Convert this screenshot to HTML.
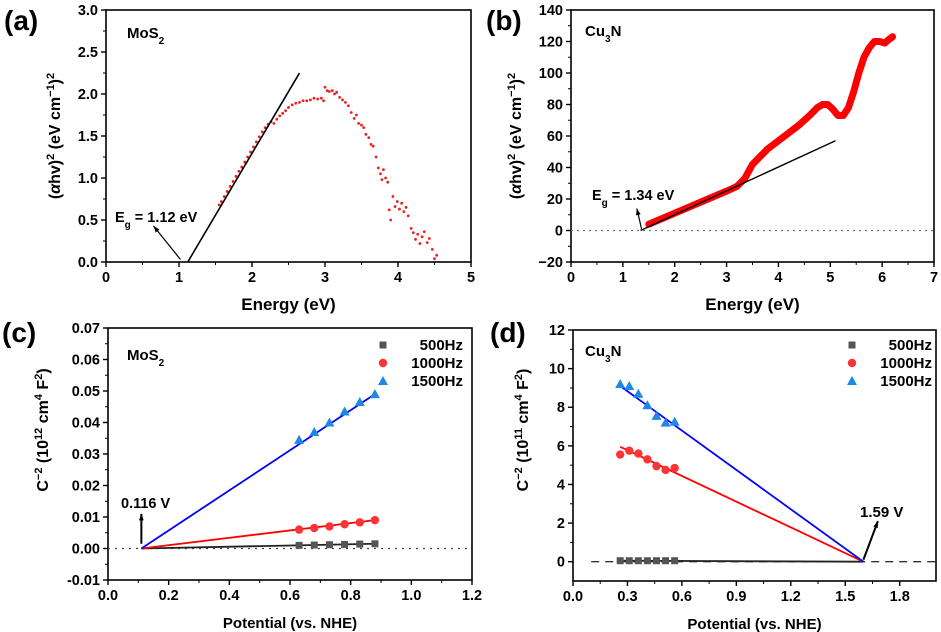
<!DOCTYPE html>
<html><head><meta charset="utf-8"><style>
body{margin:0;background:#fff;}
svg{display:block;font-family:"Liberation Sans",Arial,sans-serif;font-weight:bold;}
</style></head><body>
<svg id="c" width="941" height="632" viewBox="0 0 941 632" xmlns="http://www.w3.org/2000/svg"></svg>
<script>
// Panel (a) MoS2 Tauc data
const aX=[1.55,1.58,1.62,1.66,1.70,1.74,1.78,1.82,1.86,1.90,1.94,1.98,2.02,2.06,2.10,2.14,2.18,2.22,2.26,2.30,2.34,2.38,2.42,2.46,2.50,2.55,2.60,2.65,2.70,2.75,2.80,2.85,2.90,2.95,2.98,3.00,3.03,3.06,3.10,3.13,3.16,3.20,3.24,3.28,3.32,3.36,3.40,3.43,3.46,3.50,3.53,3.56,3.60,3.63,3.66,3.70,3.73,3.76,3.78,3.80,3.83,3.86,3.88,3.90,3.93,3.96,3.99,4.02,4.05,4.08,4.11,4.14,4.18,4.21,4.24,4.27,4.30,4.33,4.36,4.40,4.43,4.47,4.50,4.53];
const aY=[0.68,0.72,0.78,0.84,0.90,0.96,1.02,1.08,1.13,1.19,1.25,1.31,1.37,1.43,1.49,1.55,1.60,1.64,1.67,1.65,1.70,1.74,1.77,1.80,1.84,1.87,1.89,1.90,1.92,1.92,1.93,1.95,1.94,1.95,1.92,2.08,2.04,2.03,2.04,2.00,2.02,1.96,1.93,1.90,1.86,1.78,1.71,1.75,1.65,1.63,1.60,1.52,1.48,1.40,1.38,1.25,1.12,1.05,0.98,1.10,1.00,0.95,0.62,0.50,0.78,0.66,0.72,0.63,0.70,0.60,0.65,0.55,0.40,0.35,0.27,0.33,0.22,0.30,0.36,0.23,0.28,0.15,0.04,0.08];
const aFit=[1.12,2.65];
// Panel (b) Cu3N Tauc data
const bX=[1.5,1.75,2.0,2.25,2.5,2.75,3.0,3.2,3.35,3.5,3.65,3.8,4.0,4.2,4.4,4.6,4.75,4.85,4.95,5.05,5.15,5.25,5.35,5.45,5.55,5.65,5.75,5.85,5.95,6.05,6.12,6.2];
const bY=[4,7.5,11,14.5,18,21.5,25,28,33,42,47,52,57,62,67,73,78,80,80,77,73,73,78,88,100,110,116,120,120,119,121,123];
const bFit=[1.34,5.1];
// Panel (c) MoS2 Mott-Schottky
const cX=[0.63,0.68,0.73,0.78,0.83,0.88];
const c500=[0.0010,0.0011,0.0012,0.0013,0.0014,0.0015];
const c1000=[0.0060,0.0065,0.0070,0.0077,0.0083,0.0090];
const c1500=[0.0345,0.0370,0.0400,0.0435,0.0465,0.0490];
const cFitX=[0.11,0.88];
// Panel (d) Cu3N Mott-Schottky
const dX=[0.26,0.31,0.36,0.41,0.46,0.51,0.56];
const d500=[0.05,0.05,0.05,0.05,0.05,0.05,0.05];
const d1000=[5.55,5.75,5.6,5.3,4.95,4.75,4.85];
const d1500=[9.2,9.1,8.7,8.1,7.55,7.2,7.25];
const dFitX=[0.26,1.6];
const legendLabels=["500Hz","1000Hz","1500Hz"];

const svg=document.getElementById('c');
const NS="http://www.w3.org/2000/svg";
function el(t,a,txt){const e=document.createElementNS(NS,t);for(const k in a)e.setAttribute(k,a[k]);if(txt!==undefined)e.textContent=txt;svg.appendChild(e);return e;}
function mk(x0,x1,px0,px1){return v=>px0+(v-x0)/(x1-x0)*(px1-px0);}
function frame(L,T,R,B,xt,yt,sx,sy,xl,yl,fmtx,fmty,name){
  const r=el('rect',{x:L,y:T,width:R-L,height:B-T,fill:'none',stroke:'#000','stroke-width':1.6});
  
  
  xt.forEach(v=>{const x=sx(v);el('line',{x1:x,x2:x,y1:B,y2:B+5,stroke:'#000','stroke-width':1.4});
    const t=el('text',{x:x,y:B+20,'text-anchor':'middle','font-size':14.5},fmtx(v));
    });
  for(let i=0;i<xt.length-1;i++){const x=sx((xt[i]+xt[i+1])/2);el('line',{x1:x,x2:x,y1:B,y2:B+3,stroke:'#000','stroke-width':1});}
  yt.forEach(v=>{const y=sy(v);el('line',{x1:L-5,x2:L,y1:y,y2:y,stroke:'#000','stroke-width':1.4});
    const t=el('text',{x:L-8,y:y+5,'text-anchor':'end','font-size':14.5},fmty(v));
    });
  for(let i=0;i<yt.length-1;i++){const y=sy((yt[i]+yt[i+1])/2);el('line',{x1:L-3,x2:L,y1:y,y2:y,stroke:'#000','stroke-width':1});}
  const xa=el('text',{x:(L+R)/2,y:B+48,'text-anchor':'middle','font-size':xl[1]},xl[0]);
  
}
function ytitle(x,y,html,name,fs){
  const t=el('text',{x:0,y:0,'text-anchor':'middle','font-size':fs||16,transform:`translate(${x},${y}) rotate(-90)`});
  t.innerHTML=html;
  
}
function label(x,y,s,name){const t=el('text',{x:x,y:y,'font-size':28},s);}
function arrow(x1,y1,x2,y2,w){
  el('line',{x1:x1,y1:y1,x2:x2,y2:y2,stroke:'#000','stroke-width':w||1.2});
  const a=Math.atan2(y2-y1,x2-x1),s=7;
  el('polygon',{points:`${x2},${y2} ${x2-s*Math.cos(a-0.35)},${y2-s*Math.sin(a-0.35)} ${x2-s*Math.cos(a+0.35)},${y2-s*Math.sin(a+0.35)}`,fill:'#000'});
}

// ---- (a)
{const sx=mk(0,5,106,471),sy=mk(0,3,262,10);
 frame(106,10,471,262,[0,1,2,3,4,5],[0,0.5,1,1.5,2,2.5,3],sx,sy,["Energy (eV)",17],null,v=>v,v=>v.toFixed(1),'panel-a');
 ytitle(60,136,'(<tspan font-style="italic">α</tspan>hv)<tspan baseline-shift="super" font-size="11">2</tspan> (eV cm<tspan baseline-shift="super" font-size="11">−1</tspan>)<tspan baseline-shift="super" font-size="11">2</tspan>','panel-a');
 label(4,30,"(a)",'panel-a-label');
 const n=el('text',{x:127,y:38,'font-size':15});n.innerHTML='MoS<tspan baseline-shift="sub" font-size="10">2</tspan>';
 aX.forEach((x,i)=>{const c=el('circle',{cx:sx(x),cy:sy(aY[i]),r:1.4,fill:'#e82020'});});
 const slope=1.47;const f=el('line',{x1:sx(aFit[0]),y1:sy(0),x2:sx(aFit[1]),y2:sy(slope*(aFit[1]-aFit[0])),stroke:'#000','stroke-width':1.6});
 
 arrow(sx(1.02),sy(0.03),sx(0.65),sy(0.43));
 const e=el('text',{x:115,y:222,'font-size':14.5});e.innerHTML='E<tspan baseline-shift="sub" font-size="10">g</tspan> = 1.12 eV';
}
// ---- (b)
{const sx=mk(0,7,571,934),sy=mk(-20,140,262,10);
 frame(571,10,934,262,[0,1,2,3,4,5,6,7],[-20,0,20,40,60,80,100,120,140],sx,sy,["Energy (eV)",17],null,v=>v,v=>v<0?'−'+(-v):v,'panel-b');
 ytitle(521,136,'(<tspan font-style="italic">α</tspan>hv)<tspan baseline-shift="super" font-size="11">2</tspan> (eV cm<tspan baseline-shift="super" font-size="11">−1</tspan>)<tspan baseline-shift="super" font-size="11">2</tspan>','panel-b');
 label(486,30,"(b)",'panel-b-label');
 const n=el('text',{x:585,y:36,'font-size':15});n.innerHTML='Cu<tspan baseline-shift="sub" font-size="10">3</tspan>N';
 el('line',{x1:571,x2:934,y1:sy(0),y2:sy(0),stroke:'#777','stroke-dasharray':'2,4','stroke-width':1.3});
 const p=el('polyline',{points:bX.map((x,i)=>sx(x)+','+sy(bY[i])).join(' '),fill:'none',stroke:'#f00','stroke-width':7,'stroke-linejoin':'round','stroke-linecap':'round'});
 
 const f=el('line',{x1:sx(bFit[0]),y1:sy(0),x2:sx(bFit[1]),y2:sy(57),stroke:'#000','stroke-width':1.4});
 
 arrow(sx(1.36),sy(1),sx(1.27),sy(14));
 const e=el('text',{x:592,y:200,'font-size':14.5});e.innerHTML='E<tspan baseline-shift="sub" font-size="10">g</tspan> = 1.34 eV';
}
function square(x,y,c){const r=el('rect',{x:x-3.5,y:y-3.5,width:7,height:7,fill:c});return r;}
function tri(x,y,c){return el('polygon',{points:`${x},${y-5} ${x-5},${y+4} ${x+5},${y+4}`,fill:c});}
function dot(x,y,c){return el('circle',{cx:x,cy:y,r:4.2,fill:c});}
function legend(x,y,name){
 const sh=[square,dot,tri],cols=['#555','#f33','#1e88e5'];
 legendLabels.forEach((s,i)=>{const m=sh[i](x,y+i*18-5,cols[i]);
  const t=el('text',{x:x+80,y:y+i*18,'text-anchor':'end','font-size':15},s);});
}
// ---- (c)
{const sx=mk(0,1.2,108,472),sy=mk(-0.01,0.07,580,328);
 frame(108,328,472,580,[0,0.2,0.4,0.6,0.8,1.0,1.2],[-0.01,0,0.01,0.02,0.03,0.04,0.05,0.06,0.07],sx,sy,["Potential (vs. NHE)",15],null,v=>v.toFixed(1),v=>v.toFixed(2),'panel-c');
 ytitle(48,430,'C<tspan baseline-shift="super" font-size="11">−2</tspan> (10<tspan baseline-shift="super" font-size="11">12</tspan> cm<tspan baseline-shift="super" font-size="11">4</tspan> F<tspan baseline-shift="super" font-size="11">2</tspan>)','panel-c');
 label(2,342,"(c)",'panel-c-label');
 const n=el('text',{x:127,y:360,'font-size':15});n.innerHTML='MoS<tspan baseline-shift="sub" font-size="10">2</tspan>';
 el('line',{x1:108,x2:472,y1:sy(0),y2:sy(0),stroke:'#444','stroke-dasharray':'2,5','stroke-width':1.3});
 [[c500,'#222','#555',square],[c1000,'#f00','#f33',dot],[c1500,'#00f','#1e88e5',tri]].forEach(([d,lc,mc,fn],k)=>{
  const last=d[d.length-1];
  const l=el('line',{x1:sx(cFitX[0]),y1:sy(0),x2:sx(cFitX[1]),y2:sy(last),stroke:lc,'stroke-width':1.8});
  
  cX.forEach((x,i)=>{const m=fn(sx(x),sy(d[i]),mc);});
 });
 arrow(sx(0.11),sy(0.0015),sx(0.11),sy(0.011),2);
 const t=el('text',{x:121,y:508,'font-size':14.5},'0.116 V');
 legend(383,350,'panel-c');
}
// ---- (d)
{const sx=mk(0,2.0,573,936),sy=mk(-1,12,581,330);
 frame(573,330,936,581,[0,0.3,0.6,0.9,1.2,1.5,1.8],[0,2,4,6,8,10,12],sx,sy,["Potential (vs. NHE)",15],null,v=>v.toFixed(1),v=>v,'panel-d');
 ytitle(528,430,'C<tspan baseline-shift="super" font-size="11">−2</tspan> (10<tspan baseline-shift="super" font-size="11">11</tspan> cm<tspan baseline-shift="super" font-size="11">4</tspan> F<tspan baseline-shift="super" font-size="11">2</tspan>)','panel-d');
 label(490,342,"(d)",'panel-d-label');
 const n=el('text',{x:585,y:356,'font-size':15});n.innerHTML='Cu<tspan baseline-shift="sub" font-size="10">3</tspan>N';
 el('line',{x1:sx(0.1),x2:936,y1:sy(0),y2:sy(0),stroke:'#333','stroke-dasharray':'8,6','stroke-width':1.3});
 const fitStart=[0.05,5.95,9.1];
 [[d500,'#222','#555',square],[d1000,'#f00','#f33',dot],[d1500,'#00f','#1e88e5',tri]].forEach(([d,lc,mc,fn],k)=>{
  const l=el('line',{x1:sx(dFitX[0]),y1:sy(fitStart[k]),x2:sx(dFitX[1]),y2:sy(0),stroke:lc,'stroke-width':1.8});
  
  dX.forEach((x,i)=>{const m=fn(sx(x),sy(d[i]),mc);});
 });
 arrow(sx(1.6),sy(0.1),sx(1.68),sy(2.1),2);
 const t=el('text',{x:860,y:517,'font-size':15},'1.59 V');
 legend(852,350,'panel-d');
}
</script>
</body></html>
